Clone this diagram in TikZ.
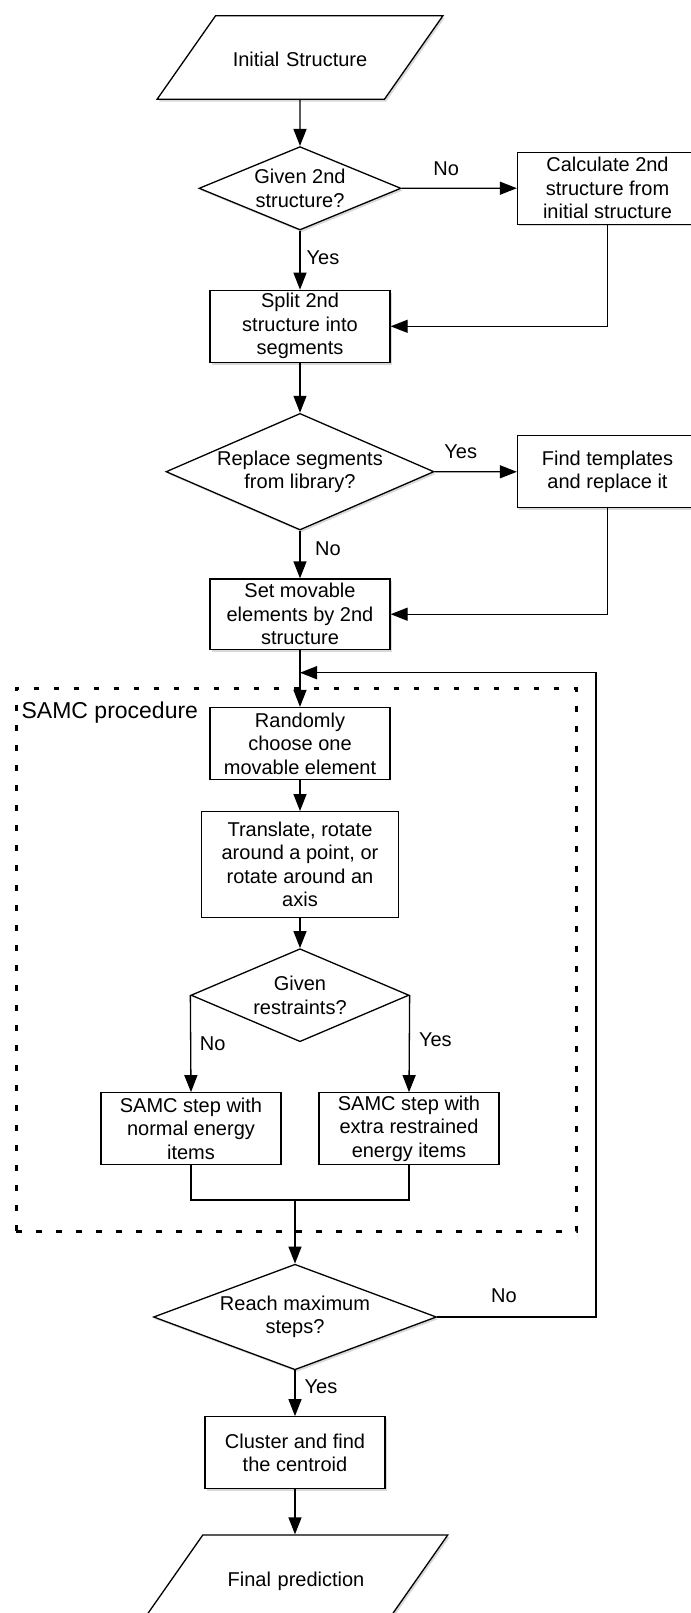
\documentclass[tikz,border=0pt]{standalone}
\usepackage{fontspec}
\setmainfont{Liberation Sans}
\usetikzlibrary{shapes.geometric,arrows.meta,positioning,shadows,fit,calc}

\begin{document}
\begin{tikzpicture}[x=0.5pt,y=-0.5pt,line width=0.65pt]
  \tikzset{align=center,font=\fontsize{10}{11.75}\selectfont}

  \tikzset{block/.style = {shape=rectangle,draw,fill=white,minimum width=90pt,minimum height=36pt,inner sep=1pt}}

  \tikzset{decision/.style = {shape=diamond,draw,fill=white,inner sep=0pt}}

  \tikzset{io/.style = {shape=trapezium,trapezium left angle=55,trapezium right angle=125,draw,fill=white,inner xsep=0pt,inner ysep=16.25pt,text height=9.3pt,text depth=0pt}}

  \tikzset{shade/.style = {drop shadow={shadow xshift=0.9pt,shadow yshift=-1.1pt,opacity=0.3}}}

  \tikzset{flow/.style = {->,> = {Triangle[length=8.5pt,width=6.5pt]}}}

  \tikzset{answer/.style = {inner sep=0pt}}

  \tikzset{dotbox/.style = {draw,line width=1.5pt,dash pattern=on 2.8pt off 7.2pt}}

  \useasboundingbox (0,0) rectangle (691,1613);

  % vertices
  \node[io,shade,text width=84.4pt] (init) at (300,57.5) {Initial Structure};
  \node[decision,shade,minimum width=101pt,minimum height=41.7pt,aspect=2.42] (given) at (300,188.3) {Given 2nd\\structure?};
  \node[block,shade] (calc) at (607.5,188.2) {Calculate 2nd\\structure from\\initial structure};
  \node[block,shade] (split) at (300,326.3) {Split 2nd\\structure into\\segments};
  \node[decision,shade,minimum width=134pt,minimum height=58.3pt,aspect=2.3] (replace) at (300,471.7) {Replace segments\\from library?};
  \node[block,shade] (find) at (607.5,471.8) {Find templates\\and replace it};
  \node[block,shade,minimum height=35.2pt] (set) at (300,614.2) {Set movable\\elements by 2nd\\structure};

  % SAMC procedure
  \node[dotbox,inner sep=0pt,fit={(16,688.3) (576,1231.7)}] (samc) {};
  \node[anchor=base west,inner sep=0pt,font=\fontsize{11.5}{13}\selectfont] (samctitle) at (21,718.3) {SAMC procedure};
  \node[block] (rand) at (300,743.5) {Randomly\\choose one\\movable element};
  \node[block,minimum width=98.75pt,minimum height=52.8pt] (move) at (300,864.5) {Translate, rotate\\around a point, or\\rotate around an\\axis};
  \node[decision,minimum width=109pt,minimum height=46.5pt,aspect=2.34] (restr) at (300,995.2) {Given\\restraints?};
  \node[block] (normal) at (191,1128.8) {SAMC step with\\normal energy\\items};
  \node[block] (extra) at (409,1128.8) {SAMC step with\\extra restrained\\energy items};

  \node[decision,shade,minimum width=141.5pt,minimum height=52.8pt,aspect=2.68] (reach) at (295,1317) {Reach maximum\\steps?};
  \node[block,shade] (cluster) at (295,1452.8) {Cluster and find\\the centroid};
  \node[io,shade,text width=93.2pt] (final) at (296,1576.8) {Final prediction};

  \coordinate (merge) at (295,1200);
  \coordinate (loop) at (596,672.7);

  %edges
  \draw[flow] (init) -- (given);
  \draw[flow] (given.east) -- node[answer,pos=0.386,yshift=10pt]{No} (calc.west);
  \draw[flow] (given.south) -- node[answer,pos=0.46,xshift=11.5pt]{Yes} (split.north);
  \draw[flow] (calc.south) |- (split.east);
  \draw[flow] (split) -- (replace);
  \draw[flow] (replace.east) -- node[answer,pos=0.317,yshift=10pt]{Yes} (find.west);
  \draw[flow] (replace.south) -- node[answer,pos=0.37,xshift=14pt]{No} (set.north);
  \draw[flow] (find.south) |- (set.east);
  \draw[flow] (set) -- (rand);
  \draw[flow] (rand) -- (move);
  \draw[flow] (move) -- (restr);
  \draw[flow] (restr.west) -- node[answer,pos=0.5,xshift=11pt]{No} (normal.north);
  \draw[flow] (restr.east) -- node[answer,pos=0.46,xshift=13pt]{Yes} (extra.north);
  \draw (normal.south) -- (normal.south |- merge) -- (extra.south |- merge) -- (extra.south);
  \draw[flow] (merge) -- (reach.north);
  \draw[flow] (reach.east) -- node[answer,pos=0.42,yshift=10.5pt]{No} (reach.east -| loop) -- (loop) -- (loop -| set.south);
  \draw[flow] (reach.south) -- node[answer,pos=0.36,xshift=13pt]{Yes} (cluster.north);
  \draw[flow] (cluster.south) -- (cluster.south |- final.north);
\end{tikzpicture}
\end{document}
